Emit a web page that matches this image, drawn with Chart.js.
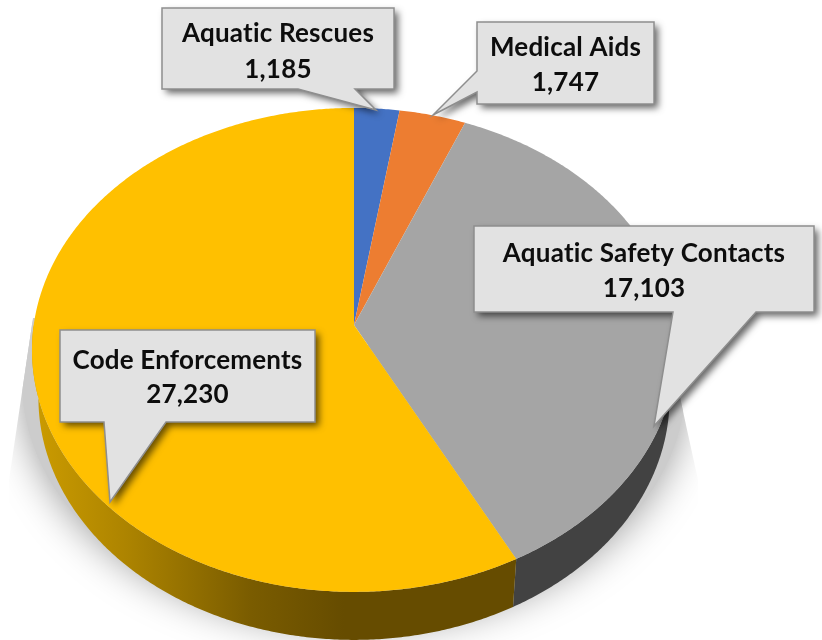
<!DOCTYPE html>
<html>
<head>
<meta charset="utf-8">
<title>Pie</title>
<style>
  html, body { margin: 0; padding: 0; background: #fff; }
  #wrap { width: 822px; height: 640px; }
</style>
<script src="https://cdn.jsdelivr.net/npm/chart.js@4"></script>
</head>
<body>
<div id="wrap"><canvas id="pie" width="822" height="640"></canvas></div>
<script>
const categories = ['Aquatic Rescues', 'Medical Aids', 'Aquatic Safety Contacts', 'Code Enforcements'];
const values = [1185, 1747, 17103, 27230];
const sliceColors = ['#4472C4', '#ED7D31', '#A5A5A5', '#FFC000'];

// callout boxes, same order as categories: box, pointer base, pointer tip, text baselines
const callouts = [
  { x: 162, y: 8, w: 232, h: 81, side: 'bottom', a: 298, b: 355, tipX: 376, tipY: 110, line1: 42, line2: 78 },
  { x: 477, y: 22, w: 177, h: 82, side: 'left', a: 71, b: 92, tipX: 433, tipY: 115, line1: 56, line2: 91 },
  { x: 474, y: 226, w: 340, h: 86, side: 'bottom', a: 673, b: 756, tipX: 654, tipY: 426, line1: 262, line2: 297 },
  { x: 60, y: 330, w: 255, h: 92, side: 'bottom', a: 104, b: 166, tipX: 110, tipY: 502, line1: 369, line2: 403 }
];

// perspective of the tilted disc, p is the foreshortening towards the viewer
const disc = { x: 354, y: 325, a: 320.3, b: 239.4, p: 0.103, depth: 48, bottomScale: 0.98 };

function project(angle, scale, drop) {
  const u = Math.cos(angle), v = Math.sin(angle);
  const d = 1 - disc.p * v;
  return { x: disc.x + disc.a * scale * u / d, y: disc.y + drop + disc.b * v / d };
}

function rimTo(ctx, from, to, scale, drop) {
  const steps = Math.max(2, Math.ceil(Math.abs(to - from) / 0.008));
  for (let i = 0; i <= steps; i++) {
    const pt = project(from + (to - from) * i / steps, scale, drop);
    ctx.lineTo(pt.x, pt.y);
  }
}

function drawShadow(ctx) {
  ctx.save();
  ctx.beginPath();
  ctx.moveTo(33, 318);
  ctx.lineTo(9, 480);
  ctx.lineTo(9, 640);
  ctx.lineTo(700, 640);
  ctx.lineTo(698, 480);
  ctx.lineTo(674, 370);
  ctx.closePath();
  ctx.clip();
  ctx.shadowColor = 'rgba(0,0,0,0.4)';
  ctx.shadowBlur = 40;
  ctx.fillStyle = '#ccc';
  ctx.beginPath();
  ctx.ellipse(disc.x, 382, 332, 246, 0, 0, Math.PI * 2);
  ctx.fill();
  ctx.restore();
}

function wallFill(ctx, index) {
  if (index === 2) return '#424242';
  const g = ctx.createLinearGradient(32, 0, 344, 0);
  g.addColorStop(0, '#CC9C00');
  g.addColorStop(0.3, '#AD8400');
  g.addColorStop(0.7, '#7A5C00');
  g.addColorStop(1, '#664C00');
  return g;
}

function drawWalls(ctx, arcs) {
  arcs.forEach(function (arc, i) {
    // only the front half of the rim is visible
    const a0 = Math.max(arc.startAngle, 0);
    const a1 = Math.min(arc.endAngle, Math.PI);
    if (a1 <= a0) return;
    ctx.beginPath();
    rimTo(ctx, a0, a1, 1, 0);
    rimTo(ctx, a1, a0, disc.bottomScale, disc.depth);
    ctx.closePath();
    ctx.fillStyle = wallFill(ctx, i);
    ctx.fill();
  });
}

function drawTop(ctx, arcs) {
  arcs.forEach(function (arc) {
    ctx.beginPath();
    ctx.moveTo(disc.x, disc.y);
    rimTo(ctx, arc.startAngle, arc.endAngle, 1, 0);
    ctx.closePath();
    ctx.fillStyle = arc.options.backgroundColor;
    ctx.fill();
  });
}

function calloutPath(ctx, c) {
  ctx.beginPath();
  ctx.moveTo(c.x, c.y);
  ctx.lineTo(c.x + c.w, c.y);
  ctx.lineTo(c.x + c.w, c.y + c.h);
  if (c.side === 'bottom') {
    ctx.lineTo(c.b, c.y + c.h);
    ctx.lineTo(c.tipX, c.tipY);
    ctx.lineTo(c.a, c.y + c.h);
    ctx.lineTo(c.x, c.y + c.h);
  } else {
    ctx.lineTo(c.x, c.y + c.h);
    ctx.lineTo(c.x, c.b);
    ctx.lineTo(c.tipX, c.tipY);
    ctx.lineTo(c.x, c.a);
  }
  ctx.closePath();
}

function drawCallouts(ctx) {
  callouts.forEach(function (c, i) {
    ctx.save();
    ctx.shadowColor = 'rgba(0,0,0,0.6)';
    ctx.shadowBlur = 7;
    ctx.shadowOffsetX = 4;
    ctx.shadowOffsetY = 4;
    ctx.fillStyle = '#E2E2E2';
    calloutPath(ctx, c);
    ctx.fill();
    ctx.restore();

    ctx.strokeStyle = '#8E8E8E';
    ctx.lineWidth = 1.5;
    ctx.lineJoin = 'miter';
    calloutPath(ctx, c);
    ctx.stroke();

    ctx.fillStyle = '#0D0D0D';
    ctx.font = 'bold 26px Lato';
    ctx.letterSpacing = '0.2px'; // also stops the ti ligature
    ctx.textAlign = 'center';
    const mid = c.x + c.w / 2;
    ctx.fillText(categories[i], mid, c.line1);
    ctx.fillText(values[i].toLocaleString('en-US'), mid, c.line2);
  });
}

const disc3d = {
  id: 'disc3d',
  beforeDatasetsDraw(chart) {
    const ctx = chart.ctx;
    const arcs = chart.getDatasetMeta(0).data;
    drawShadow(ctx);
    drawWalls(ctx, arcs);
    drawTop(ctx, arcs);
    drawCallouts(ctx);
    return false; // everything drawn above
  }
};

new Chart(document.getElementById('pie').getContext('2d'), {
  type: 'pie',
  data: {
    labels: categories,
    datasets: [{
      data: values,
      backgroundColor: sliceColors,
      borderWidth: 0
    }]
  },
  options: {
    responsive: false,
    animation: false,
    devicePixelRatio: 1,
    plugins: {
      legend: { display: false },
      tooltip: { enabled: false }
    }
  },
  plugins: [disc3d]
});
</script>
</body>
</html>
